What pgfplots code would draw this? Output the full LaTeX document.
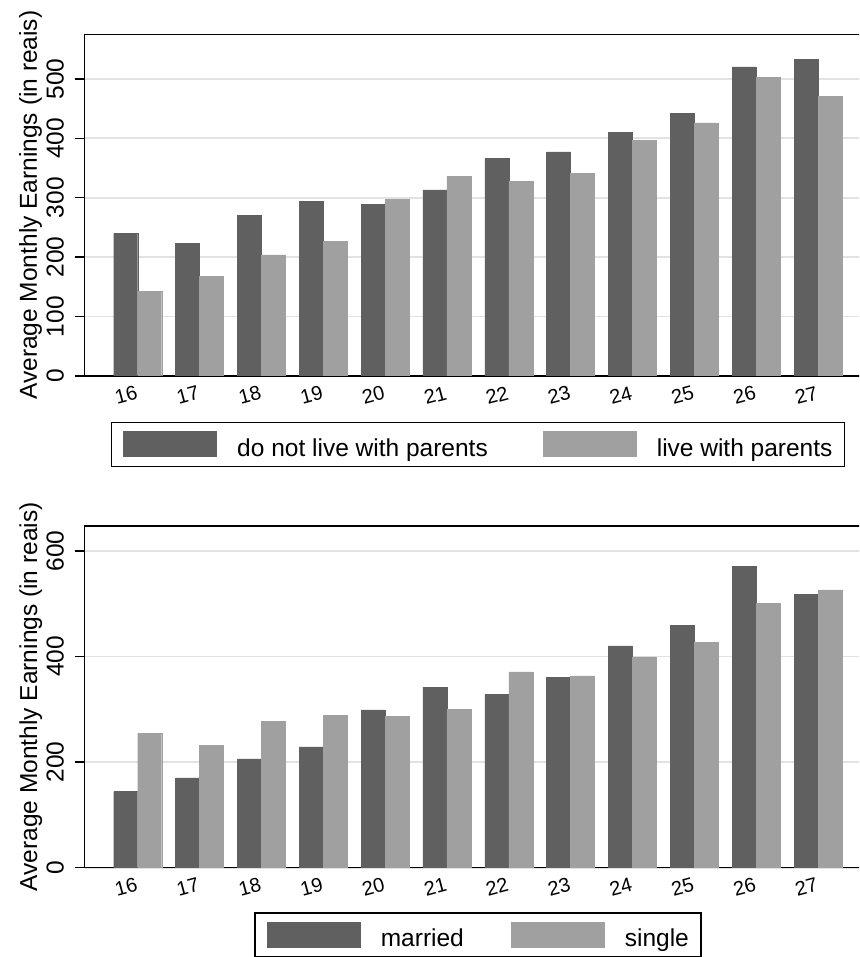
\documentclass[border=0pt]{standalone}
\usepackage{fontspec}
\setmainfont{Liberation Sans}
\usepackage{pgfplots}
\pgfplotsset{compat=1.18}

\definecolor{bardark}{HTML}{606060}
\definecolor{barlight}{HTML}{A0A0A0}
\definecolor{gridgray}{HTML}{E2E2E2}

\newcommand{\bigfont}{\fontsize{24.5}{29}\selectfont}
\newcommand{\tickfont}{\fontsize{20}{24}\selectfont}

\pgfplotsset{
  earnings/.style={
    scale only axis,
    width=786.3pt, height=341.7pt,
    xmin=-0.857, xmax=11.857,
    ymin=0,
    ybar=0pt, bar width=24pt,
    xtick={0,1,2,3,4,5,6,7,8,9,10,11},
    xticklabels={16,17,18,19,20,21,22,23,24,25,26,27},
    xtick style={draw=none},
    xticklabel style={font=\tickfont, rotate=15, anchor=east, xshift=1pt, yshift=-6pt},
    ytick style={black, line width=1.4pt},
    tick align=outside,
    major tick length=10pt,
    % labels are turned by 90 degrees, so yshift moves them to the left
    yticklabel style={font=\bigfont, rotate=90, anchor=base, yshift=11pt},
    /pgf/number format/assume math mode=true,
    ymajorgrids,
    grid style={gridgray, line width=1.8pt},
    axis line style={black, line width=1.5pt},
    ylabel={Average Monthly Earnings (in reais)},
    ylabel style={font=\bigfont, at={(axis description cs:0,0.5)}, anchor=base, yshift=47.7pt},
    legend columns=2,
    legend image code/.code={
      \path[draw=none, fill=none] (0pt,-9.5pt) rectangle (114pt,16.5pt);
      \path[#1, draw=none] (0pt,-9.5pt) rectangle (94pt,16.5pt);
    },
    legend style={at={(0.5,0)}, anchor=north, draw=black, line width=1.4pt,
      font=\bigfont, inner xsep=12pt, inner ysep=9pt,
      nodes={inner sep=0pt}},
  },
  darkbar/.style={fill=bardark, draw=bardark, line width=0.4pt},
  lightbar/.style={fill=barlight, draw=barlight, line width=0.4pt},
}

\begin{document}
\begin{tikzpicture}
\useasboundingbox (0,0) rectangle (859pt,957pt);
\clip (0,0) rectangle (859pt,957pt);

% living arrangement
\begin{axis}[earnings,
  at={(84.7pt,581pt)}, anchor=south west,
  ymax=575, ytick={0,100,200,300,400,500},
  legend style={yshift=-45.7pt,
    /tikz/every even column/.append style={column sep=55pt}}]
\addplot[darkbar] coordinates {(0,240) (1,223) (2,270) (3,294) (4,289) (5,313)
  (6,366) (7,377) (8,410) (9,442) (10,520) (11,533)};
\addplot[lightbar] coordinates {(0,143) (1,168) (2,204) (3,227) (4,297) (5,336)
  (6,328) (7,341) (8,397) (9,426) (10,502) (11,471)};
\legend{do not live with parents, live with parents}
\end{axis}

% marital status
\begin{axis}[earnings,
  at={(84.7pt,89.3pt)}, anchor=south west,
  ymax=647, ytick={0,200,400,600},
  legend style={yshift=-44.6pt,
    /tikz/every even column/.append style={column sep=47pt}}]
\addplot[darkbar] coordinates {(0,144) (1,170) (2,206) (3,229) (4,299) (5,342)
  (6,328) (7,361) (8,420) (9,459) (10,570) (11,517)};
\addplot[lightbar] coordinates {(0,255) (1,231) (2,277) (3,289) (4,286) (5,300)
  (6,371) (7,363) (8,399) (9,427) (10,500) (11,526)};
\legend{married, single}
\end{axis}
\end{tikzpicture}
\end{document}
